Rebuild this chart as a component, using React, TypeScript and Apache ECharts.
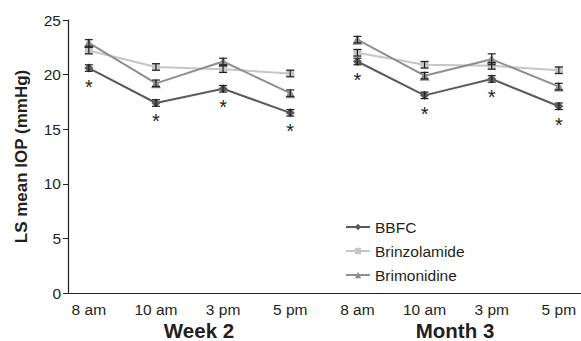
import React, { useEffect, useRef } from "react";
import * as echarts from "echarts";

const timeLabels = ["8 am", "10 am", "3 pm", "5 pm", "8 am", "10 am", "3 pm", "5 pm"];
const groupLabels = ["Week 2", "Month 3"];
const seriesNames = ["BBFC", "Brinzolamide", "Brimonidine"];
const bbfc = [20.6, 17.4, 18.7, 16.5, 21.2, 18.1, 19.6, 17.1];
const brinzolamide = [22.2, 20.7, 20.5, 20.1, 22.0, 20.9, 20.8, 20.4];
const brimonidine = [22.9, 19.2, 21.2, 18.3, 23.2, 19.9, 21.4, 18.9];
const bbfcErr = [0.3, 0.3, 0.3, 0.3, 0.3, 0.3, 0.3, 0.3];
const brinzErr = [0.3, 0.3, 0.3, 0.3, 0.3, 0.3, 0.3, 0.3];
const brimoErr = [0.3, 0.3, 0.3, 0.3, 0.3, 0.3, 0.5, 0.3];
const significant = [true, true, true, true, true, true, true, true];
const groupSize = 4;

const colors = ["#5a5a5a", "#c6c6c6", "#8e8e8e"];
const symbols = ["diamond", "rect", "triangle"];
const FONT = "'Liberation Sans', Arial, sans-serif";

export default function App() {
  const ref = useRef<HTMLDivElement>(null);
  useEffect(() => {
    if (!ref.current) return;
    const chart = echarts.init(ref.current, null, { renderer: "svg" });
    const values = [bbfc, brinzolamide, brimonidine];
    const errs = [bbfcErr, brinzErr, brimoErr];

    const toData = (vals: number[]) => {
      const out: any[] = [];
      vals.forEach((v, i) => {
        if (i > 0 && i % groupSize === 0) out.push([i - 0.5, "-"]);
        out.push({ value: [i, v] });
      });
      return out;
    };

    const lineSeries: any[] = values.map((vals, si) => ({
      name: seriesNames[si],
      type: "line",
      data: toData(vals),
      connectNulls: false,
      symbol: symbols[si],
      symbolSize: si === 1 ? 8 : si === 2 ? 10 : 9,
      itemStyle: { color: colors[si] },
      lineStyle: { color: colors[si], width: 2 },
      z: 3,
      label:
        si === 0
          ? {
              show: true,
              position: "bottom",
              distance: 4,
              formatter: (p: any) => {
                const x = Array.isArray(p.value) ? p.value[0] : null;
                return x !== null && Number.isInteger(x) && significant[x] ? "*" : "";
              },
              fontSize: 20,
              fontFamily: FONT,
              color: "#231f20",
            }
          : { show: false },
    }));

    const errSeries: any[] = values.map((vals, si) => ({
      name: seriesNames[si] + " err",
      type: "custom",
      data: vals.map((v, i) => [i, v - errs[si][i], v + errs[si][i]]),
      z: 4,
      silent: true,
      renderItem: (params: any, api: any) => {
        const lo = api.coord([api.value(0), api.value(1)]);
        const hi = api.coord([api.value(0), api.value(2)]);
        const w = 4;
        const style = { stroke: "#231f20", lineWidth: 1.2 };
        return {
          type: "group",
          children: [
            { type: "line", shape: { x1: lo[0], y1: lo[1], x2: hi[0], y2: hi[1] }, style },
            { type: "line", shape: { x1: lo[0] - w, y1: lo[1], x2: lo[0] + w, y2: lo[1] }, style },
            { type: "line", shape: { x1: hi[0] - w, y1: hi[1], x2: hi[0] + w, y2: hi[1] }, style },
          ],
        };
      },
    }));

    chart.setOption({
      animation: false,
      backgroundColor: "#ffffff",
      textStyle: { fontFamily: FONT },
      grid: { left: 68, right: 0, top: 20, bottom: 48 },
      legend: {
        data: seriesNames,
        orient: "vertical",
        left: 340,
        top: 214,
        itemWidth: 24,
        itemHeight: 8,
        itemGap: 8,
        textStyle: { fontSize: 15.5, color: "#231f20", fontFamily: FONT },
      },
      xAxis: {
        type: "value",
        min: -0.31,
        max: 7.33,
        splitLine: { show: false },
        axisLine: { lineStyle: { color: "#231f20", width: 1.2 } },
        axisTick: { show: false },
        axisLabel: {
          customValues: [0, 1, 2, 3, 4, 5, 6, 7],
          formatter: (v: number) => timeLabels[Math.round(v)] ?? "",
          fontSize: 15.5,
          color: "#231f20",
          margin: 8,
          fontFamily: FONT,
        },
      },
      yAxis: {
        type: "value",
        min: 0,
        max: 25,
        interval: 5,
        name: "LS mean IOP (mmHg)",
        nameLocation: "middle",
        nameGap: 38,
        nameTextStyle: { fontSize: 17, fontWeight: "bold", color: "#231f20", fontFamily: FONT },
        splitLine: { show: false },
        axisLine: { show: true, onZero: false, lineStyle: { color: "#231f20", width: 1.2 } },
        axisTick: { show: true, length: 5, lineStyle: { color: "#231f20" } },
        axisLabel: { fontSize: 15.5, color: "#231f20", margin: 7, fontFamily: FONT },
      },
      graphic: [
        {
          type: "text",
          x: 199,
          y: 330,
          style: {
            text: groupLabels[0],
            font: `bold 20.5px ${FONT}`,
            fill: "#231f20",
            textAlign: "center",
            textVerticalAlign: "middle",
          },
        },
        {
          type: "text",
          x: 455,
          y: 330,
          style: {
            text: groupLabels[1],
            font: `bold 20.5px ${FONT}`,
            fill: "#231f20",
            textAlign: "center",
            textVerticalAlign: "middle",
          },
        },
      ],
      series: [...lineSeries, ...errSeries],
    });
    return () => chart.dispose();
  }, []);
  return <div ref={ref} style={{ width: 581, height: 341, position: "absolute", left: 0, top: 0 }} />;
}
